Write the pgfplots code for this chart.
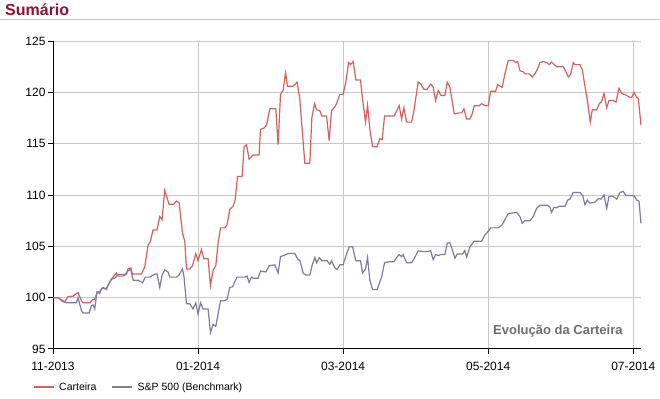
\documentclass[border=0pt]{standalone}
\usepackage{pgfplots}
\pgfplotsset{compat=1.18}
\usepackage{fontspec}
\setmainfont{Liberation Sans}
\definecolor{cartred}{RGB}{212,96,96}
\definecolor{spblue}{RGB}{125,125,155}
\definecolor{titlered}{RGB}{140,20,50}
\definecolor{gridgray}{RGB}{200,200,200}
\begin{document}
\begin{tikzpicture}
\useasboundingbox (0,0) rectangle (660bp,399bp);
\node[anchor=base west, inner sep=0pt, text=titlered, font=\fontsize{16bp}{18bp}\selectfont\bfseries] at (5bp,383.5bp) {Sumário};
\draw[gridgray, line width=1.5bp] (0,379.5bp) -- (660bp,379.5bp);
\begin{axis}[
  at={(53bp,50bp)}, anchor=south west,
  scale only axis, width=588bp, height=308bp,
  xmin=0, xmax=587.7, ymin=95, ymax=125,
  axis x line*=bottom, axis y line*=left,
  axis line style={-, black, line width=1bp},
  xtick={0,145,290,435,580},
  xticklabels={11-2013,01-2014,03-2014,05-2014,07-2014},
  ytick={95,100,105,110,115,120,125},
  grid=major,
  major grid style={gridgray, line width=1bp},
  tick align=outside, major tick length=5bp,
  tick style={black, line width=1bp},
  ticklabel style={font=\fontsize{12bp}{14bp}\selectfont},
  /pgf/number format/assume math mode=true,
  yticklabel style={xshift=1bp},
  xticklabel style={yshift=-5bp},
  clip=false,
  legend columns=2,
  legend style={at={(-20bp,-38bp)}, anchor=west, draw=none, fill=none,
    inner sep=0pt, outer sep=0pt, font=\fontsize{10.5bp}{12bp}\selectfont,
    /tikz/every odd column/.append style={column sep=3bp},
    /tikz/every even column/.append style={column sep=13bp}},
  legend image code/.code={\draw[#1] (0bp,0bp) -- (20bp,0bp);},
  legend cell align=left,
]
\addplot[cartred, line width=1.2bp] coordinates {
(0,100.0)(5,100.0)(11.7,99.6)(15,100.1)(20,100.15)(25,100.5)(28.4,99.7)(30,99.5)(36.7,99.5)(39.4,99.8)(41.7,99.85)(44,100.5)(46.7,100.6)(50,101.0)(53.4,100.8)(55,101.2)(58.4,101.8)(60,102.0)(63.4,102.4)(65,102.1)(70,102.1)(73.4,102.3)(75,102.8)(77.7,102.9)(79.4,102.3)(83.4,102.3)(88.4,102.3)(91.7,103.0)(95,105.1)(97.4,105.5)(100,106.6)(104,106.6)(106.7,107.9)(109,107.6)(111.7,110.45)(116,109.1)(120.7,109.1)(123.4,109.4)(126,109.25)(129.4,106.3)(131.7,105.5)(133.4,102.8)
(136.7,102.8)(139.4,103.1)(142.7,104.3)(145,103.6)(148.4,104.7)(150.7,103.8)(155,103.8)(157.4,101.2)(160,102.7)(162.7,103.1)(165,105.3)(167.4,106.8)(171.7,106.8)(174,107.1)(176.7,108.6)(180,108.9)(182,109.5)(184.4,111.8)(189,111.8)(191,114.7)(193.4,114.9)(196,113.5)(200,113.9)(206,113.9)(207.4,116.4)(210.7,116.5)(213.4,116.8)(216.7,118.4)(222.7,118.4)(225,114.9)(227.4,119.8)(230,120.2)(232.4,121.9)(234.4,120.6)(240,120.6)(244,121.0)(246.7,119.3)(251.7,113.1)(256.7,113.1)(258.7,117.5)(261.4,118.9)(263.4,118.3)(266.7,118.2)(268.7,117.7)(273.4,117.7)(276,115.3)(278.4,118.2)(281.7,118.6)(283.4,118.9)
(286.7,119.8)(290,119.8)(292.7,121.0)(295.4,122.9)(297.4,122.7)(300,123.0)(302.7,121.2)(307.4,121.2)(309.4,119.3)(312.4,117.1)(314.4,118.75)(316.7,116.4)(319.4,114.7)(324,114.7)(326.7,115.5)(329,115.4)(331.4,117.7)(341,117.7)(346,118.7)(348.4,117.4)(350.7,118.5)(353.4,117.1)(358.4,117.1)(360.7,118.2)(365,121.0)(367.7,120.8)(370.7,120.3)(374,120.3)(377.4,120.8)(380,120.5)(382.4,119.2)(385,120.2)(387.7,119.7)(391.7,119.7)(394,121.0)(396.7,120.5)(401,117.9)(406,118.0)(408.4,118.0)(410.7,118.4)(413.4,117.4)(416.7,117.4)(419,117.9)(421,118.7)(426,118.7)(428.4,118.9)
(431.7,118.7)(435,118.7)(437.4,120.1)(442.4,120.1)(444.4,120.75)(449,120.5)(451.7,121.8)(455,123.1)(460,123.1)(462.7,122.9)(464.4,123.0)(466.7,122.1)(470,122.0)(471.7,121.8)(475.7,121.8)(479,121.5)(481.7,121.8)(484.4,122.3)(486.7,122.9)(490,123.0)(493.4,122.9)(496,122.7)(498.4,122.95)(501,122.7)(503.4,122.5)(510,122.5)(512.7,122.0)(515,121.5)(517.4,121.75)(520,122.9)(521.7,122.7)(526.7,122.7)(529,122.2)(531.7,120.6)(534.4,119.0)(537,117.1)(539,118.3)(543.4,118.3)(546,118.9)(548.4,119.1)(550.7,119.9)(553.4,118.5)(555.7,119.2)(560,119.2)(562.7,119.05)(565.7,120.4)(568.4,119.9)(572.4,119.75)(576.7,119.5)(578.4,119.5)(580.7,120.0)(583.4,119.5)(585,119.4)(587.7,116.8)
};
\addlegendentry{Carteira}
\addplot[spblue, line width=1.2bp] coordinates {
(0,100)(5,100)(10,99.6)(13.4,99.5)(23.4,99.5)(25,100.0)(28.4,98.75)(30,98.5)(36,98.5)(38.4,99.2)(40,99.3)(41.7,98.9)(44,100.55)(46.7,100.4)(48.4,100.9)(53.4,100.9)(55,101.2)(58.4,101.8)(61.7,101.9)(65,102.25)(71.7,102.25)(75,102.6)(77.7,102.8)(80,101.7)(85,101.7)(89.4,101.45)(92.4,102.0)(96.7,102.0)(101.7,102.3)(104,102.3)(106.7,101.0)(109,102.2)(111.7,102.7)(115,102.5)(116.7,102.0)(123.4,102.0)(126,102.2)(129.4,102.8)(131,102.0)(133.4,99.4)
(136.7,99.4)(140,98.9)(142.7,99.5)(145,98.4)(147.4,99.5)(150,98.9)(155,98.9)(157.4,96.6)(160,97.4)(162.7,97.2)(165,98.4)(167.4,99.7)(171.7,99.7)(174,99.85)(176.7,101.0)(179.4,101.05)(182,101.6)(184,102.0)(191.7,102.0)(194,102.1)(196,101.5)(198.4,102.0)(200,101.9)(205,101.9)(207.4,102.6)(212.7,102.5)(216,103.1)(221.7,103.2)(225,102.4)(227.4,104.0)(231.7,104.15)(235,104.3)(241.7,104.3)(245,103.7)(246.7,103.65)(250,102.4)(252.7,102.2)(256.7,102.2)(259,103.15)(261.7,103.9)(263.4,103.4)(266,103.9)(269,103.6)(274,103.6)(276.7,103.25)(278.4,103.6)(281.7,102.9)(284,102.75)
(286.7,103.2)(290,103.2)(292.7,104.05)(296,104.95)(299.4,104.95)(302.7,103.6)(307.4,103.6)(309.4,102.4)(312.4,102.8)(314.4,103.9)(316.7,101.7)(319.4,100.8)(324,100.8)(328.4,102.0)(331.4,103.4)(336,103.5)(340.7,103.5)(343.4,103.9)(346,104.2)(348.4,104.0)(350,104.2)(353.4,103.4)(358.4,103.4)(360.7,103.75)(365,104.55)(370,104.5)(375,104.5)(377.4,104.6)(380,103.7)(382.4,104.2)(385,104.1)(387.7,104.2)(391.7,104.2)(394,105.3)(396.7,105.35)(399,104.7)(401.7,103.85)(404,104.25)(409.4,104.25)(411.7,104.6)(413.4,103.95)(416.7,104.95)(421,105.5)(428.4,105.5)
(431.7,106.1)(434.4,106.4)(437.7,106.8)(445,106.8)(449,107.1)(451.7,107.6)(455,108.2)(463.4,108.3)(466.7,107.9)(469,107.25)(471.7,107.5)(476.7,107.5)(480,107.9)(483.4,108.7)(486.7,109.0)(494.4,109.0)(496.7,108.8)(498.4,108.3)(500.7,108.8)(503.4,108.75)(505.7,108.9)(511.7,108.9)(514.4,109.5)(516.7,109.6)(520,110.25)(526.7,110.25)(529.4,109.95)(531.7,109.05)(534,109.5)(536.7,109.2)(541.7,109.3)(545,109.65)(547.7,109.6)(550.7,110.0)(553.4,108.7)(555.7,109.85)(560,109.85)(563.4,109.6)(566.7,110.25)(570,110.35)(572.4,109.95)(578.4,109.95)(581,109.9)(583.4,109.5)(585.7,109.4)(587.7,107.25)
};
\addlegendentry{S\&P 500 (Benchmark)}
\node[anchor=east, inner sep=0pt, text={rgb,255:red,110;green,110;blue,110}, font=\fontsize{13bp}{15bp}\selectfont\bfseries] at (axis description cs:0.969,0.058) {Evolução da Carteira};
\end{axis}
\end{tikzpicture}
\end{document}
